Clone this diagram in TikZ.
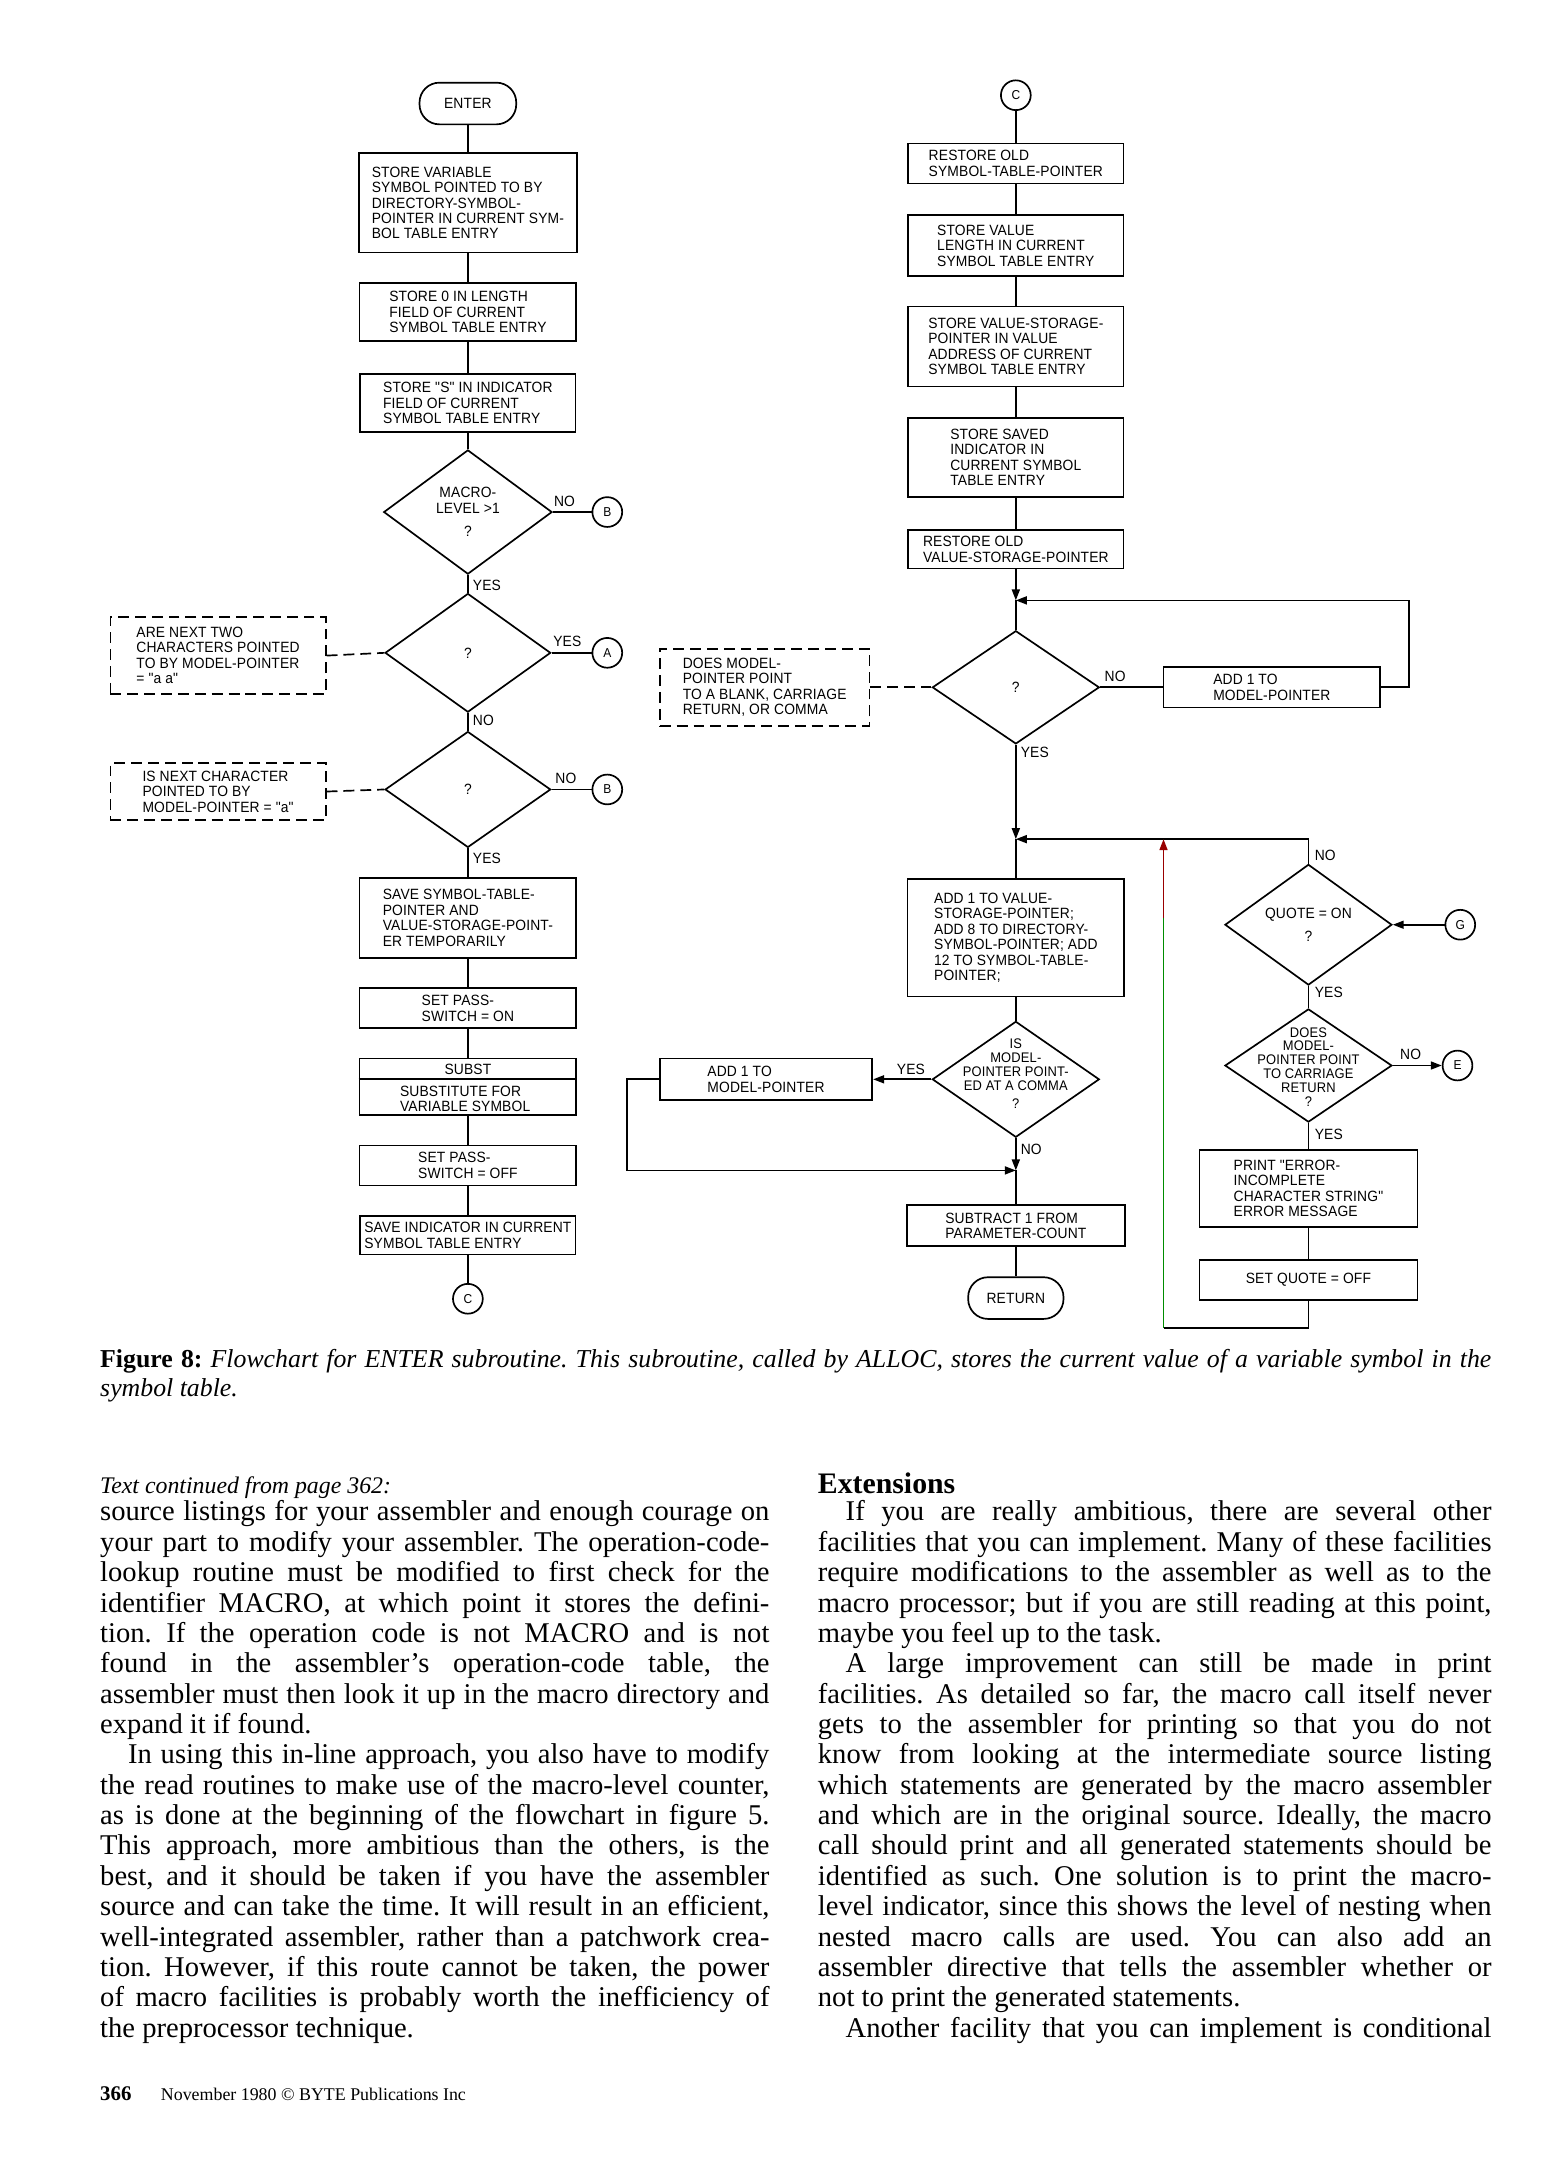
\documentclass[tikz,border=0pt]{standalone}
\usepackage{fontspec}
\setmainfont{Liberation Serif}
\newfontfamily\fcfont{Liberation Sans}[FakeStretch=0.93, LetterSpace=1]
\usetikzlibrary{arrows.meta,shapes.geometric}
\newcommand\fcf{\fcfont\fontsize{7.5}{7.8}\selectfont}
\newcommand\fcd{\fcfont\fontsize{7}{7}\selectfont}
\newcommand\fcs{\fcfont\fontsize{6.5}{7}\selectfont}
\newlength\cwa \setlength\cwa{337pt}
\newlength\cwb \setlength\cwb{339.2pt}
\newcommand\ja[1]{\hbox to \cwa{#1}}
\newcommand\jb[1]{\hbox to \cwb{#1}}
\frenchspacing
\begin{document}
\begin{tikzpicture}[x=0.695pt,y=-0.695pt,line width=0.85pt,
  >={Triangle[length=5.5pt,width=4pt]},
  pbox/.style 2 args={draw, minimum width=#1*0.695pt, minimum height=#2*0.695pt, inner sep=0pt, align=left, font=\fcf},
  dbox/.style 2 args={pbox={#1}{#2}, dash pattern=on 5.5pt off 3pt},
  dia/.style 2 args={draw, diamond, minimum width=#1*0.695pt, minimum height=#2*0.695pt, inner sep=0pt, align=center, font=\fcf},
  term/.style={draw, rounded corners=10pt, minimum height=21pt, inner sep=0pt, font=\fcf},
  conn/.style={draw, circle, minimum size=15pt, inner sep=0pt, font=\fcs},
  lbl/.style={inner sep=0pt, font=\fcf},
  txt/.style={inner sep=0pt, align=center, font=\fcd},
  dsh/.style={dash pattern=on 5.5pt off 3pt}]
\fill[white] (0,0) rectangle (1117,1565);
\useasboundingbox (0,0) rectangle (1117,1565);

% ---------------- left column ----------------
\node[term, minimum width=48.7pt] (enter) at (339,75) {ENTER};
\node[pbox={158}{72}] (b1) at (339,147) {STORE VARIABLE\\SYMBOL POINTED TO BY\\DIRECTORY-SYMBOL-\\POINTER IN CURRENT SYM-\\BOL TABLE ENTRY};
\node[pbox={157}{42}] (b2) at (339,226) {STORE 0 IN LENGTH\\FIELD OF CURRENT\\SYMBOL TABLE ENTRY};
\node[pbox={156}{42}] (b3) at (339,292) {STORE "S" IN INDICATOR\\FIELD OF CURRENT\\SYMBOL TABLE ENTRY};
\node[dia={122}{90}] (d1) at (339,371) {MACRO-\\LEVEL >1\\[4pt]?};
\node[conn] (cb1) at (440,371) {B};
\node[lbl] (l1) at (409,363) {NO};
\node[dia={120}{86}] (d2) at (339,473) {?};
\node[lbl, anchor=west] (l2) at (342,424) {YES};
\node[conn] (ca) at (440,473) {A};
\node[lbl] (l3) at (411,465) {YES};
\node[dbox={156}{56}] (n1) at (158,475) {ARE NEXT TWO\\CHARACTERS POINTED\\TO BY MODEL-POINTER\\= "a a"};
\node[dia={120}{84}] (d3) at (339,572) {?};
\node[lbl, anchor=west] (l4) at (342,522) {NO};
\node[conn] (cb2) at (440,572) {B};
\node[lbl] (l5) at (410,564) {NO};
\node[dbox={156}{41}] (n2) at (158,573.5) {IS NEXT CHARACTER\\POINTED TO BY\\MODEL-POINTER = "a"};
\node[pbox={157}{58}] (b4) at (339,665) {SAVE SYMBOL-TABLE-\\POINTER AND\\VALUE-STORAGE-POINT-\\ER TEMPORARILY};
\node[lbl, anchor=west] (l6) at (342,622) {YES};
\node[pbox={157}{29}] (b5) at (339,730.5) {SET PASS-\\SWITCH = ON};
\node[pbox={157}{41}] (b6) at (339,787.5) {};
\coordinate (sd) at (339,782);
\node[txt, font=\fcf] (b6a) at (339,775) {SUBST};
\node[txt, font=\fcf, align=left] (b6b) at (337,796) {SUBSTITUTE FOR\\VARIABLE SYMBOL};
\node[pbox={157}{29}] (b7) at (339,844.5) {SET PASS-\\SWITCH = OFF};
\node[pbox={156}{28}] (b8) at (339,895) {SAVE INDICATOR IN CURRENT\\SYMBOL TABLE ENTRY};
\node[conn] (cc1) at (339,941) {C};

\draw (enter) -- (b1);
\draw (b1) -- (b2);
\draw (b2) -- (b3);
\draw (b3) -- (d1.north);
\draw (d1.east) -- (cb1);
\draw (d1.south) -- (d2.north);
\draw (d2.east) -- (ca);
\draw[dsh] (n1.east) -- (d2.west);
\draw (d2.south) -- (d3.north);
\draw (d3.east) -- (cb2);
\draw[dsh] (n2.east) -- (d3.west);
\draw (d3.south) -- (b4.north);
\draw (b4) -- (b5);
\draw (b5) -- (b6);
\draw (b6.west |- sd) -- (b6.east |- sd);
\draw (b6) -- (b7);
\draw (b7) -- (b8);
\draw (b8) -- (cc1);

% ---------------- right column ----------------
\node[conn] (cc2) at (736,69) {C};
\node[pbox={156}{29}] (r1) at (736,118.5) {RESTORE OLD\\SYMBOL-TABLE-POINTER};
\node[pbox={156}{44}] (r2) at (736,178) {STORE VALUE\\LENGTH IN CURRENT\\SYMBOL TABLE ENTRY};
\node[pbox={156}{58}] (r3) at (736,251) {STORE VALUE-STORAGE-\\POINTER IN VALUE\\ADDRESS OF CURRENT\\SYMBOL TABLE ENTRY};
\node[pbox={156}{57}] (r4) at (736,331.5) {STORE SAVED\\INDICATOR IN\\CURRENT SYMBOL\\TABLE ENTRY};
\node[pbox={156}{28}] (r5) at (736,398) {RESTORE OLD\\VALUE-STORAGE-POINTER};
\coordinate (j1) at (736,435);
\node[dia={121}{82}] (d4) at (736,498) {?};
\node[pbox={157}{29}] (a1) at (921.5,498) {ADD 1 TO\\MODEL-POINTER};
\node[lbl] (l7) at (808,490) {NO};
\node[dbox={152}{56}] (n3) at (554,498) {DOES MODEL-\\POINTER POINT\\TO A BLANK, CARRIAGE\\RETURN, OR COMMA};
\coordinate (j2) at (736,608);
\node[lbl, anchor=west] (l8) at (739,545) {YES};
\node[pbox={157}{85}] (r6) at (736,679.5) {ADD 1 TO VALUE-\\STORAGE-POINTER;\\ADD 8 TO DIRECTORY-\\SYMBOL-POINTER; ADD\\12 TO SYMBOL-TABLE-\\POINTER;};
\node[dia={121}{84}] (d5) at (736,782) {};
\node[txt] (d5t) at (736,778) {IS\\MODEL-\\POINTER POINT-\\ED AT A COMMA\\[2pt]?};
\node[pbox={154}{30}] (a2) at (555,782) {ADD 1 TO\\MODEL-POINTER};
\node[lbl] (l9) at (660,775) {YES};
\coordinate (j3) at (736,848);
\node[lbl, anchor=west] (l10) at (739,833) {NO};
\node[pbox={158}{30}] (r7) at (736,888) {SUBTRACT 1 FROM\\PARAMETER-COUNT};
\node[term, minimum width=48pt] (ret) at (736,940.5) {RETURN};

\draw (cc2) -- (r1);
\draw (r1) -- (r2);
\draw (r2) -- (r3);
\draw (r3) -- (r4);
\draw (r4) -- (r5);
\draw[->] (r5) -- (j1);
\draw (j1) -- (d4.north);
\draw (d4.east) -- (a1.west);
\draw[->] (a1.east) -- ++(20,0) |- (j1);
\draw[dsh] (n3.east) -- (d4.west);
\draw[->] (d4.south) -- (j2);
\draw (j2) -- (r6.north);
\draw (r6.south) -- (d5.north);
\draw[->] (d5.west) -- (a2.east);
\draw[->] (a2.west) -- ++(-23,0) |- (j3);
\draw[->] (d5.south) -- (j3);
\draw (j3) -- (r7.north);
\draw (r7) -- (ret);

% ---------------- far right column ----------------
\node[dia={121}{80}] (d6) at (948,670) {QUOTE = ON\\[4pt]?};
\node[lbl, anchor=west] (l11) at (952,620) {NO};
\node[conn] (cg) at (1058,670) {G};
\node[dia={121}{82}] (d7) at (948,772) {};
\node[txt] (d7t) at (948,773) {DOES\\MODEL-\\POINTER POINT\\TO CARRIAGE\\RETURN\\?};
\node[lbl, anchor=west] (l12) at (952,719) {YES};
\node[conn] (ce) at (1056,772) {E};
\node[lbl] (l13) at (1022,764) {NO};
\node[pbox={158}{56}] (r8) at (948,861) {PRINT "ERROR-\\INCOMPLETE\\CHARACTER STRING"\\ERROR MESSAGE};
\node[lbl, anchor=west] (l14) at (952,822) {YES};
\node[pbox={158}{29}] (r9) at (948,927.5) {SET QUOTE = OFF};
\coordinate (j4) at (843,608);
\coordinate (k1) at (843,962);
\coordinate (k2) at (843,665);

\draw[->] (d6.north) |- (j2);
\draw[->] (cg) -- (d6.east);
\draw (d6.south) -- (d7.north);
\draw[->] (d7.east) -- (ce);
\draw (d7.south) -- (r8.north);
\draw (r8) -- (r9);
\draw (r9.south) |- (k1);
\draw[green!55!black] (k1) -- (k2);
\draw[->, red!60!black] (k2) -- (j4);

% ---------------- caption and text ----------------
\node[anchor=base west, inner sep=0pt] (cap1) at (72,991) {\fontsize{13}{14}\selectfont\hbox to 700.5pt{\textbf{Figure 8:} \textit{Flowchart for ENTER subroutine. This subroutine, called by ALLOC, stores the current value of a variable symbol in the}}};
\node[anchor=base west, inner sep=0pt] (cap2) at (72,1012) {\fontsize{13}{14}\selectfont\itshape symbol table.};

\node[anchor=base west, inner sep=0pt] (cont) at (72,1082) {\fontsize{12}{14}\selectfont\itshape Text continued from page 362:};
\node[anchor=base west, inner sep=0pt] (ext) at (592,1082) {\fontsize{15}{17}\selectfont\bfseries Extensions};

\node[anchor=base west, inner sep=0pt] (colA) at (72,1102) {\fontsize{14.4}{15.29}\selectfont\lineskiplimit=-100pt\vtop{%
\ja{source listings for your assembler and enough courage on}
\ja{your part to modify your assembler. The operation-code-}
\ja{lookup routine must be modified to first check for the}
\ja{identifier MACRO, at which point it stores the defini-}
\ja{tion. If the operation code is not MACRO and is not}
\ja{found in the assembler's operation-code table, the}
\ja{assembler must then look it up in the macro directory and}
\hbox{expand it if found.}
\ja{\hskip14pt In using this in-line approach, you also have to modify}
\ja{the read routines to make use of the macro-level counter,}
\ja{as is done at the beginning of the flowchart in figure 5.}
\ja{This approach, more ambitious than the others, is the}
\ja{best, and it should be taken if you have the assembler}
\ja{source and can take the time. It will result in an efficient,}
\ja{well-integrated assembler, rather than a patchwork crea-}
\ja{tion. However, if this route cannot be taken, the power}
\ja{of macro facilities is probably worth the inefficiency of}
\hbox{the preprocessor technique.}}};

\node[anchor=base west, inner sep=0pt] (colB) at (592,1102) {\fontsize{14.4}{15.29}\selectfont\lineskiplimit=-100pt\vtop{%
\jb{\hskip14pt If you are really ambitious, there are several other}
\jb{facilities that you can implement. Many of these facilities}
\jb{require modifications to the assembler as well as to the}
\jb{macro processor; but if you are still reading at this point,}
\hbox{maybe you feel up to the task.}
\jb{\hskip14pt A large improvement can still be made in print}
\jb{facilities. As detailed so far, the macro call itself never}
\jb{gets to the assembler for printing so that you do not}
\jb{know from looking at the intermediate source listing}
\jb{which statements are generated by the macro assembler}
\jb{and which are in the original source. Ideally, the macro}
\jb{call should print and all generated statements should be}
\jb{identified as such. One solution is to print the macro-}
\jb{level indicator, since this shows the level of nesting when}
\jb{nested macro calls are used. You can also add an}
\jb{assembler directive that tells the assembler whether or}
\hbox{not to print the generated statements.}
\jb{\hskip14pt Another facility that you can implement is conditional}}};

\node[anchor=base west, inner sep=0pt] (pg) at (72,1522) {\fontsize{10.5}{12}\selectfont\bfseries 366};
\node[anchor=base west, inner sep=0pt] (foot) at (116,1522) {\fontsize{9}{11}\selectfont November 1980 \textcopyright{} BYTE Publications Inc};
\end{tikzpicture}
\end{document}
